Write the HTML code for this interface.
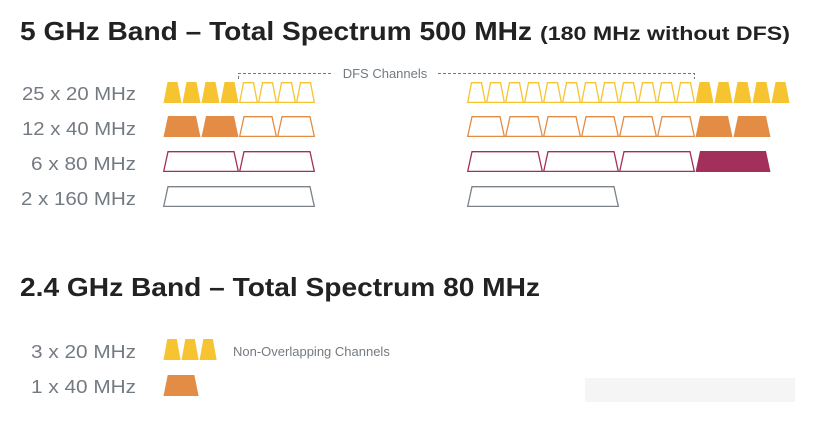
<!DOCTYPE html>
<html><head><meta charset="utf-8"><style>
html,body{margin:0;padding:0;background:#fff;}
svg{display:block;font-family:"Liberation Sans",sans-serif;}
.lab{fill:#737a82;font-size:18px;}
.t{fill:#222;font-weight:bold;}
</style></head><body>
<svg width="821" height="425" viewBox="0 0 821 425">
<defs>
<polygon id="y20" points="0.5,21 4.5,0 14.5,0 18.5,21" fill="#F7C431"/>
<polygon id="y20o" points="0.7,20.4 4.5,0.7 14.5,0.7 18.3,20.4" fill="none" stroke="#F7C431" stroke-width="1.3"/>
<polygon id="o40" points="0.5,21 5,0 33,0 37.5,21" fill="#E38C46"/>
<polygon id="o40o" points="0.7,20.4 5,0.7 33,0.7 37.3,20.4" fill="none" stroke="#E38C46" stroke-width="1.3"/>
<polygon id="r80" points="0.5,21 5,0 71,0 75.5,21" fill="#A3305A"/>
<polygon id="r80o" points="0.7,20.4 5,0.7 71,0.7 75.3,20.4" fill="none" stroke="#A3305A" stroke-width="1.3"/>
<polygon id="g160o" points="0.7,20.4 5,0.7 147,0.7 151.3,20.4" fill="none" stroke="#7B8289" stroke-width="1.3"/>
</defs>
<text class="t" x="20" y="40" font-size="26" textLength="512" lengthAdjust="spacingAndGlyphs">5 GHz Band – Total Spectrum 500 MHz</text>
<text class="t" x="540" y="40" font-size="19" textLength="250" lengthAdjust="spacingAndGlyphs">(180 MHz without DFS)</text>
<text class="t" x="20" y="296" font-size="26" textLength="520" lengthAdjust="spacingAndGlyphs">2.4 GHz Band – Total Spectrum 80 MHz</text>

<text class="lab" x="136" y="100" text-anchor="end" textLength="114" lengthAdjust="spacingAndGlyphs">25 x 20 MHz</text>
<text class="lab" x="136" y="135" text-anchor="end" textLength="114" lengthAdjust="spacingAndGlyphs">12 x 40 MHz</text>
<text class="lab" x="136" y="170" text-anchor="end" textLength="105" lengthAdjust="spacingAndGlyphs">6 x 80 MHz</text>
<text class="lab" x="136" y="205" text-anchor="end" textLength="115" lengthAdjust="spacingAndGlyphs">2 x 160 MHz</text>
<text class="lab" x="136" y="358" text-anchor="end" textLength="105" lengthAdjust="spacingAndGlyphs">3 x 20 MHz</text>
<text class="lab" x="136" y="393" text-anchor="end" textLength="105" lengthAdjust="spacingAndGlyphs">1 x 40 MHz</text>

<path d="M238.5,79 V73.5 H333 M438,73.5 H694.5 V79" fill="none" stroke="#777" stroke-width="1" stroke-dasharray="3,2"/>
<text x="385" y="78" text-anchor="middle" fill="#737a82" font-size="13">DFS Channels</text>

<g transform="translate(0,82)">
<use href="#y20" x="163"/><use href="#y20" x="182"/><use href="#y20" x="201"/><use href="#y20" x="220"/>
<use href="#y20o" x="239"/><use href="#y20o" x="258"/><use href="#y20o" x="277"/><use href="#y20o" x="296"/>
<use href="#y20o" x="467"/><use href="#y20o" x="486"/><use href="#y20o" x="505"/><use href="#y20o" x="524"/>
<use href="#y20o" x="543"/><use href="#y20o" x="562"/><use href="#y20o" x="581"/><use href="#y20o" x="600"/>
<use href="#y20o" x="619"/><use href="#y20o" x="638"/><use href="#y20o" x="657"/><use href="#y20o" x="676"/>
<use href="#y20" x="695"/><use href="#y20" x="714"/><use href="#y20" x="733"/><use href="#y20" x="752"/><use href="#y20" x="771"/>
</g>
<g transform="translate(0,116)">
<use href="#o40" x="163"/><use href="#o40" x="201"/>
<use href="#o40o" x="239"/><use href="#o40o" x="277"/>
<use href="#o40o" x="467"/><use href="#o40o" x="505"/><use href="#o40o" x="543"/>
<use href="#o40o" x="581"/><use href="#o40o" x="619"/><use href="#o40o" x="657"/>
<use href="#o40" x="695"/><use href="#o40" x="733"/>
</g>
<g transform="translate(0,151)">
<use href="#r80o" x="163"/><use href="#r80o" x="239"/>
<use href="#r80o" x="467"/><use href="#r80o" x="543"/><use href="#r80o" x="619"/>
<use href="#r80" x="695"/>
</g>
<g transform="translate(0,186)">
<use href="#g160o" x="163"/><use href="#g160o" x="467"/>
</g>

<g transform="translate(163,339) scale(0.95,1)">
<use href="#y20" x="0"/><use href="#y20" x="19"/><use href="#y20" x="38"/>
</g>
<text x="233" y="356" fill="#737a82" font-size="13">Non-Overlapping Channels</text>
<g transform="translate(163,375) scale(0.95,1)">
<use href="#o40" x="0"/>
</g>
<rect x="585" y="378" width="210" height="24" fill="#f5f5f5"/>
</svg>
</body></html>
